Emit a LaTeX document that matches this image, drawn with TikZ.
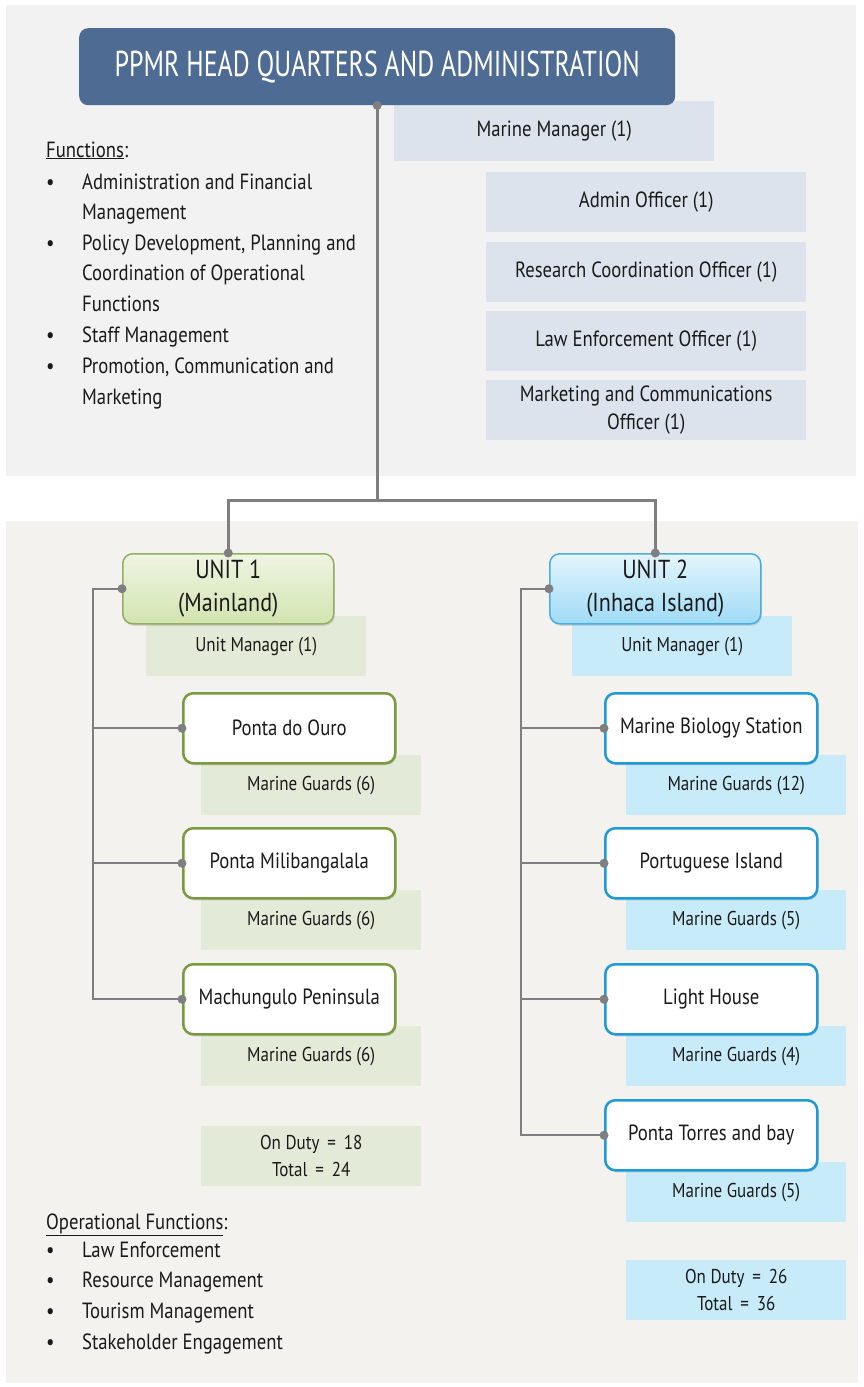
\documentclass[tikz,border=0pt]{standalone}
\usepackage{fontspec}
\setmainfont[FakeStretch=0.85]{PT Sans}
\newfontfamily\titlefont[FakeStretch=0.72]{PT Sans}
\usetikzlibrary{shadows}
\definecolor{hqblue}{HTML}{4E6B94}
\definecolor{topbg}{HTML}{F2F2F2}
\definecolor{botbg}{HTML}{F4F2EE}
\definecolor{staffbg}{HTML}{DCE3EC}
\definecolor{gbg}{HTML}{E3EAD8}
\definecolor{bbg}{HTML}{C8EBFA}
\definecolor{gborder}{HTML}{7A9A3E}
\definecolor{bborder}{HTML}{1E9AD6}
\definecolor{linegray}{HTML}{7F7F7F}
\definecolor{gtop}{HTML}{EEF5E2}
\definecolor{gbot}{HTML}{D2E4B0}
\definecolor{btop}{HTML}{E4F5FD}
\definecolor{bbot}{HTML}{9FDBF6}
\definecolor{txt}{HTML}{1A1A1A}
\tikzset{
  box/.style={anchor=north west, inner sep=0pt, align=center, text=txt,
    font=\fontsize{20}{27}\selectfont},
  staffbox/.style={box, fill=staffbg, minimum width=320pt, minimum height=60pt,
    font=\fontsize{22}{28}\selectfont},
  gstaff/.style={box, fill=gbg, minimum width=220pt, minimum height=60pt},
  bstaff/.style={box, fill=bbg, minimum width=220pt, minimum height=60pt},
  sitebox/.style={box, fill=white, line width=2.5pt, rounded corners=10pt,
    minimum width=212pt, minimum height=70pt, font=\fontsize{22}{26}\selectfont,
    drop shadow={opacity=0.25, shadow xshift=1pt, shadow yshift=-2pt}},
  gsite/.style={sitebox, draw=gborder},
  bsite/.style={sitebox, draw=bborder},
  unitbox/.style={box, line width=1.5pt, rounded corners=10pt,
    minimum width=211pt, minimum height=70pt, font=\fontsize{26}{33}\selectfont,
    drop shadow={opacity=0.25, shadow xshift=1pt, shadow yshift=-2pt}},
  conn/.style={draw=linegray, line width=1.6pt},
  trunk/.style={draw=linegray, line width=3pt},
  listtxt/.style={anchor=base west, inner sep=0pt, text=txt, font=\fontsize{22}{26}\selectfont},
}
\newcommand{\cdotmark}[1]{\fill[linegray] (#1) circle (4.5pt);}
\begin{document}
\begin{tikzpicture}[x=1pt,y=-1pt]
\useasboundingbox (0,0) rectangle (863,1387);
% backgrounds
\fill[topbg] (6,5) rectangle (856,476);
\fill[botbg] (6,521) rectangle (858,1383);

% staff boxes (top)
\node[staffbox] (mm) at (394,101) {Marine Manager (1)};
\node[staffbox] (ao) at (486,172) {Admin Officer (1)};
\node[staffbox] (rc) at (486,242) {Research Coordination Officer (1)};
\node[staffbox] (le) at (486,311) {Law Enforcement Officer (1)};
\node[staffbox] (mc) at (486,380) {Marketing and Communications\\Officer (1)};

% HQ
\node[box, fill=hqblue, rounded corners=9pt, minimum width=596pt, minimum height=77pt,
  text=white, font=\titlefont\fontsize{36}{40}\selectfont] (hq) at (79,28) {PPMR HEAD QUARTERS AND ADMINISTRATION};

% functions list
\node[listtxt] (f0) at (46,157) {\underline{Functions}:};
\node[listtxt] (b1) at (46,189) {•};
\node[listtxt] (f1) at (82,189) {Administration and Financial};
\node[listtxt] (f2) at (82,219) {Management};
\node[listtxt] (b2) at (46,250) {•};
\node[listtxt] (f3) at (82,250) {Policy Development, Planning and};
\node[listtxt] (f4) at (82,280) {Coordination of Operational};
\node[listtxt] (f5) at (82,311) {Functions};
\node[listtxt] (b3) at (46,342) {•};
\node[listtxt] (f6) at (82,342) {Staff Management};
\node[listtxt] (b4) at (46,373) {•};
\node[listtxt] (f7) at (82,373) {Promotion, Communication and};
\node[listtxt] (f8) at (82,404) {Marketing};

% Unit 1 staff boxes (behind)
\node[gstaff] (um1) at (146,616) {Unit Manager (1)};
\node[gstaff] (g1) at (201,755) {Marine Guards (6)};
\node[gstaff] (g2) at (201,890) {Marine Guards (6)};
\node[gstaff] (g3) at (201,1026) {Marine Guards (6)};
\node[gstaff] (t1) at (201,1126) {On Duty \,=\, 18\\Total \,=\, 24};

% Unit 2 staff boxes (behind)
\node[bstaff] (um2) at (572,616) {Unit Manager (1)};
\node[bstaff] (h1) at (626,755) {Marine Guards (12)};
\node[bstaff] (h2) at (626,890) {Marine Guards (5)};
\node[bstaff] (h3) at (626,1026) {Marine Guards (4)};
\node[bstaff] (h4) at (626,1162) {Marine Guards (5)};
\node[bstaff] (t2) at (626,1260) {On Duty \,=\, 26\\Total \,=\, 36};

% Units
\node[unitbox, draw=gborder!80, top color=gtop, bottom color=gbot] (u1) at (122,553) {UNIT 1\\(Mainland)};
\node[unitbox, draw=bborder!80, top color=btop, bottom color=bbot] (u2) at (549,553) {UNIT 2\\(Inhaca Island)};

% sites
\node[gsite] (s1) at (182,692) {Ponta do Ouro};
\node[gsite] (s2) at (182,827) {Ponta Milibangalala};
\node[gsite] (s3) at (182,963) {Machungulo Peninsula};
\node[bsite] (p1) at (604,692) {Marine Biology Station};
\node[bsite] (p2) at (604,827) {Portuguese Island};
\node[bsite] (p3) at (604,963) {Light House};
\node[bsite] (p4) at (604,1099) {Ponta Torres and bay};

% operational functions
\node[listtxt] (o0) at (46,1229) {\underline{Operational Functions}:};
\node[listtxt] (ob1) at (46,1257) {•};
\node[listtxt] (o1) at (82,1257) {Law Enforcement};
\node[listtxt] (ob2) at (46,1287) {•};
\node[listtxt] (o2) at (82,1287) {Resource Management};
\node[listtxt] (ob3) at (46,1318) {•};
\node[listtxt] (o3) at (82,1318) {Tourism Management};
\node[listtxt] (ob4) at (46,1349) {•};
\node[listtxt] (o4) at (82,1349) {Stakeholder Engagement};

% trunk connectors
\coordinate (j) at ([yshift=-395pt]hq.south);
\draw[trunk] (hq.south) -- (j);
\draw[trunk] (j) -| (u1.north);
\draw[trunk] (j) -| (u2.north);
\cdotmark{hq.south}\cdotmark{u1.north}\cdotmark{u2.north}

% unit 1 branches
\coordinate (v1) at ([xshift=-29pt]u1.west);
\draw[conn] (u1.west) -- (v1) |- (s3.west);
\draw[conn] (v1 |- s1.west) -- (s1.west);
\draw[conn] (v1 |- s2.west) -- (s2.west);
\cdotmark{u1.west}\cdotmark{s1.west}\cdotmark{s2.west}\cdotmark{s3.west}

% unit 2 branches
\coordinate (v2) at ([xshift=-28pt]u2.west);
\draw[conn] (u2.west) -- (v2) |- (p4.west);
\draw[conn] (v2 |- p1.west) -- (p1.west);
\draw[conn] (v2 |- p2.west) -- (p2.west);
\draw[conn] (v2 |- p3.west) -- (p3.west);
\cdotmark{u2.west}\cdotmark{p1.west}\cdotmark{p2.west}\cdotmark{p3.west}\cdotmark{p4.west}
\end{tikzpicture}
\end{document}
